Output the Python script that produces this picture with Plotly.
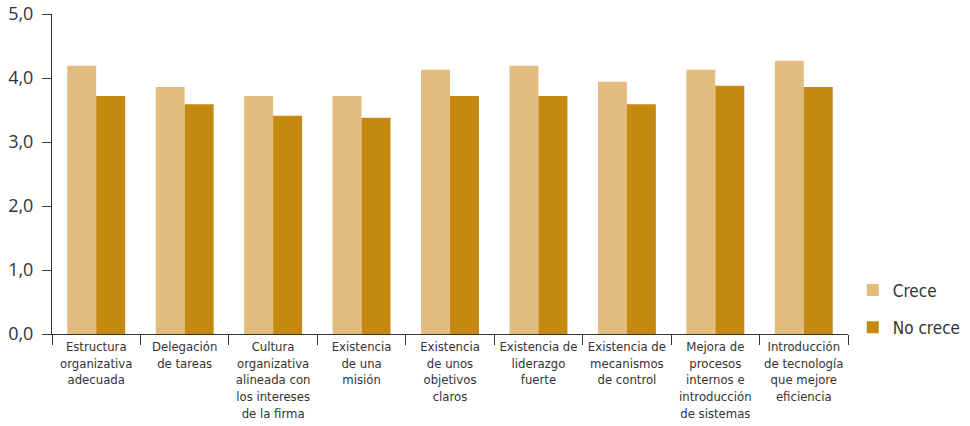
import plotly.graph_objects as go

categories = [
    "Estructura<br>organizativa<br>adecuada",
    "Delegación<br>de tareas",
    "Cultura<br>organizativa<br>alineada con<br>los intereses<br>de la firma",
    "Existencia<br>de una<br>misión",
    "Existencia<br>de unos<br>objetivos<br>claros",
    "Existencia de<br>liderazgo<br>fuerte",
    "Existencia de<br>mecanismos<br>de control",
    "Mejora de<br>procesos<br>internos e<br>introducción<br>de sistemas",
    "Introducción<br>de tecnología<br>que mejore<br>eficiencia",
]
crece = [4.19, 3.86, 3.72, 3.72, 4.13, 4.19, 3.94, 4.13, 4.27]
no_crece = [3.72, 3.59, 3.41, 3.38, 3.72, 3.72, 3.59, 3.88, 3.86]
y_tickvals = [0, 1, 2, 3, 4, 5]
y_ticktext = ["0,0", "1,0", "2,0", "3,0", "4,0", "5,0"]

FONT = "Liberation Sans Narrow, DejaVu Sans Condensed, sans-serif"

fig = go.Figure()
fig.add_trace(go.Bar(x=categories, y=crece, name="Crece", marker_color="#E3BD80",
                     marker_line_width=0, legendgroup="a"))
fig.add_trace(go.Bar(x=categories, y=no_crece, name="No crece", marker_color="#C58811",
                     marker_line_width=0, legendgroup="b"))

fig.update_layout(
    width=970, height=426,
    margin=dict(l=52, r=122, t=14, b=92, autoexpand=False),
    plot_bgcolor="white", paper_bgcolor="white",
    barmode="group", bargap=0.345, bargroupgap=0,
    font=dict(family=FONT, color="#333333", size=13),
    legend=dict(x=1.006, xanchor="left", y=0.078, yanchor="middle",
                font=dict(size=17, color="#333333"), traceorder="grouped",
                tracegroupgap=12, bgcolor="rgba(0,0,0,0)"),
    showlegend=True,
)
fig.update_xaxes(
    showline=True, linecolor="#333333", linewidth=1,
    ticks="outside", ticklen=10, tickcolor="#333333", tickson="boundaries",
    tickfont=dict(size=13, color="#333333", family=FONT),
    showgrid=False, tickangle=0, automargin=False,
)
fig.update_yaxes(
    range=[0, 5], tickvals=y_tickvals, ticktext=y_ticktext,
    showline=True, linecolor="#333333", linewidth=1,
    ticks="outside", ticklen=9, tickcolor="#333333", ticklabelstandoff=5,
    tickfont=dict(size=18, color="#333333", family="Open Sans, sans-serif"),
    showgrid=False, zeroline=False, automargin=False,
)

fig.write_html("out.html", config={"displayModeBar": False},
               post_script="document.body.style.margin='0px';document.body.style.overflow='hidden';")
